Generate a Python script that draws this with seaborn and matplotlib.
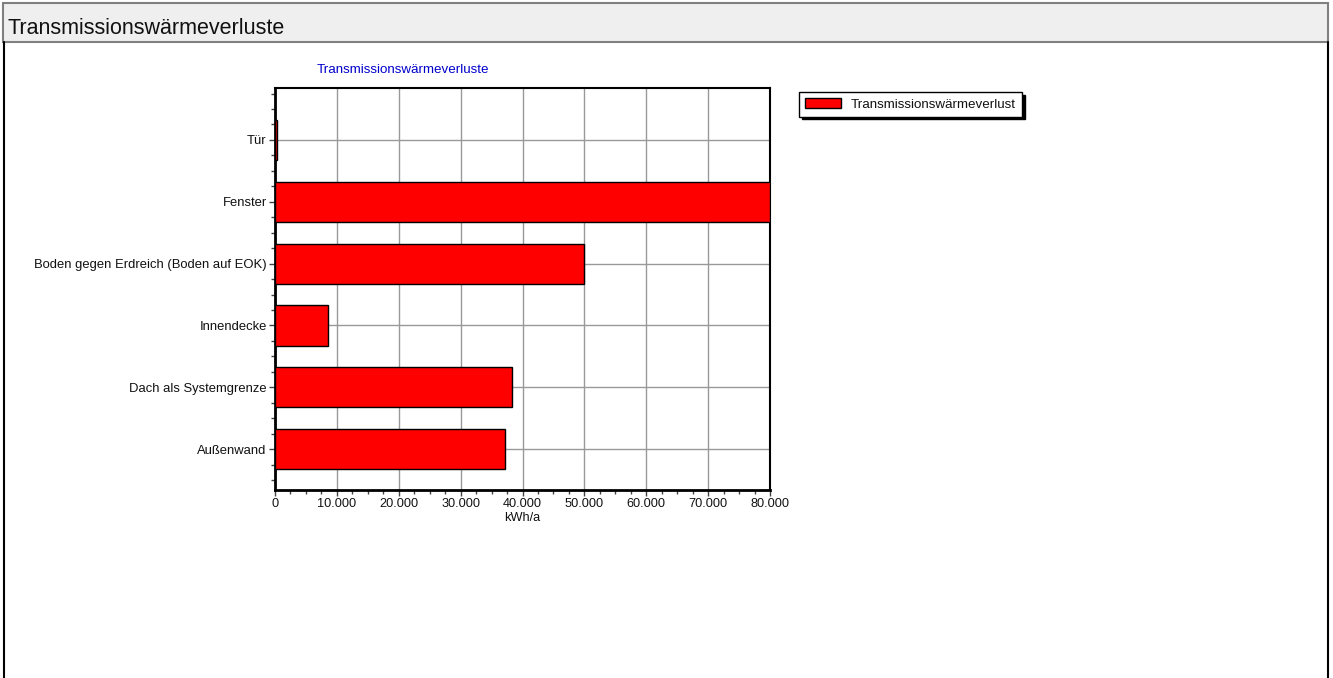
import matplotlib
import pandas as pd
import seaborn as sns

matplotlib.use("Agg")
import matplotlib.pyplot as plt  # noqa: E402
from matplotlib.patches import Rectangle  # noqa: E402
from matplotlib.lines import Line2D  # noqa: E402
from matplotlib.ticker import FuncFormatter, MultipleLocator  # noqa: E402

# data (top to bottom)
categories = [
    "Tür",
    "Fenster",
    "Boden gegen Erdreich (Boden auf EOK)",
    "Innendecke",
    "Dach als Systemgrenze",
    "Außenwand",
]
losses_kwh = [350, 80000, 50000, 8600, 38300, 37200]
series_label = "Transmissionswärmeverlust"
chart_title = "Transmissionswärmeverluste"
panel_title = "Transmissionswärmeverluste"
x_label = "kWh/a"

W, H = 1333, 678

sns.set_style("white")
plt.rcParams["font.family"] = ["Liberation Sans", "DejaVu Sans"]

fig = plt.figure(figsize=(W / 100, H / 100), dpi=100)

# panel header bar and side borders
fig.patches.append(Rectangle((3 / W, 1 - 42 / H), 1325 / W, 39 / H,
                             transform=fig.transFigure, facecolor="#efefef",
                             edgecolor="#808080", linewidth=1.5, zorder=0))
fig.lines.append(Line2D([4 / W, 4 / W], [0, 1 - 42 / H], transform=fig.transFigure,
                        color="black", linewidth=1.5))
fig.lines.append(Line2D([1328 / W, 1328 / W], [0, 1 - 42 / H], transform=fig.transFigure,
                        color="black", linewidth=1.5))
fig.text(8 / W, 1 - 28 / H, panel_title, fontsize=15.5, va="center", ha="left",
         color="#111111")

ax = fig.add_axes([275 / W, 1 - 490 / H, 495 / W, 402 / H])
frame = pd.DataFrame({"category": categories, "value": losses_kwh})
sns.barplot(data=frame, x="value", y="category", orient="h", color="#ff0000",
            saturation=1, width=0.65, edgecolor="black", linewidth=1,
            label=series_label, ax=ax, zorder=3)

ax.set_xlim(0, 80000)
ax.set_ylim(5.66, -0.84)
ax.xaxis.set_major_locator(MultipleLocator(10000))
ax.xaxis.set_minor_locator(MultipleLocator(2500))
ax.yaxis.set_minor_locator(MultipleLocator(0.25))
ax.xaxis.set_major_formatter(FuncFormatter(lambda v, _: f"{int(v):,}".replace(",", ".")))
ax.grid(True, which="major", color="#999999", linewidth=1, zorder=0)
ax.set_axisbelow(True)
ax.tick_params(which="major", direction="out", length=4, width=1, color="#444444",
               labelsize=9.4, pad=2, left=True, bottom=True, labelcolor="#111111")
ax.tick_params(axis="x", which="major", labelsize=9.2)
ax.tick_params(which="minor", direction="out", length=3, width=1, color="#444444",
               left=True, bottom=True)
for spine in ax.spines.values():
    spine.set_color("black")
    spine.set_linewidth(1.5)
ax.spines["left"].set_linewidth(2)
ax.spines["bottom"].set_linewidth(2)
ax.set_ylabel("")
ax.set_xlabel(x_label, fontsize=9.2, labelpad=1, color="#111111")

fig.text(317 / W, 1 - 70 / H, chart_title, fontsize=9.6, color="#0000cc",
         va="center", ha="left")

leg = ax.legend(loc="upper left", bbox_to_anchor=(799 / W, 1 - 92 / H),
                bbox_transform=fig.transFigure, fontsize=9.6, frameon=True,
                fancybox=False, shadow={"color": "black", "alpha": 1},
                edgecolor="black", handlelength=2.7, handleheight=0.75,
                borderpad=0.45, handletextpad=0.75, borderaxespad=0)
leg.get_frame().set_linewidth(1)
for text in leg.get_texts():
    text.set_color("#111111")

fig.savefig("out.png", dpi=100)
